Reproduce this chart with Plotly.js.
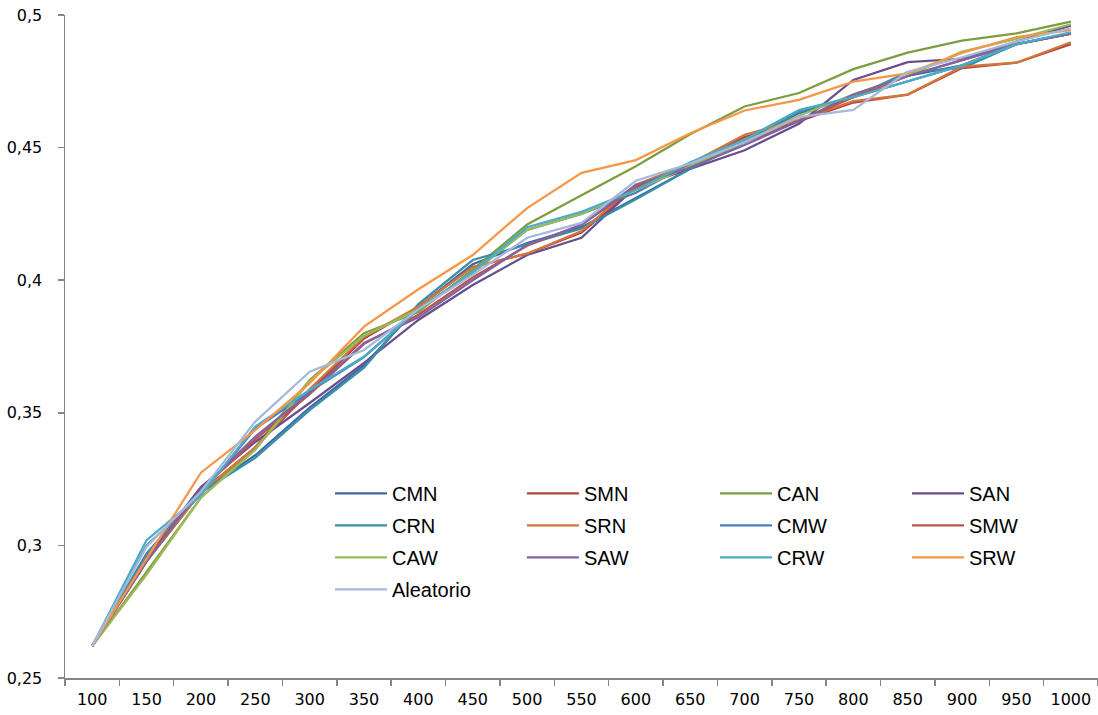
<!DOCTYPE html>
<html>
<head>
<meta charset="utf-8">
<script src="https://cdn.plot.ly/plotly-3.0.1.min.js"></script>
<style>html,body{margin:0;padding:0;background:#fff;}#chart{width:1098px;height:715px;}</style>
</head>
<body>
<div id="chart"></div>
<script>
const categories = ['100','150','200','250','300','350','400','450','500','550','600','650','700','750','800','850','900','950','1000'];

const CMN = [0.262,0.296,0.320,0.334,0.352,0.368,0.390,0.406,0.414,0.420,0.431,0.442,0.452,0.463,0.469,0.477,0.481,0.489,0.493];
const SMN = [0.262,0.294,0.320,0.337,0.358,0.378,0.390,0.405,0.410,0.418,0.435,0.444,0.454,0.460,0.467,0.470,0.480,0.482,0.489];
const CAN = [0.262,0.290,0.318,0.337,0.3624,0.380,0.388,0.404,0.421,0.432,0.443,0.455,0.4655,0.4706,0.4796,0.4858,0.4903,0.4931,0.4975];
const SAN = [0.262,0.2957,0.322,0.339,0.3537,0.3688,0.385,0.3982,0.4095,0.416,0.4353,0.442,0.449,0.459,0.4755,0.4822,0.4835,0.490,0.496];
const CRN = [0.262,0.297,0.320,0.333,0.351,0.367,0.391,0.4076,0.4135,0.4195,0.4305,0.442,0.452,0.4635,0.469,0.4785,0.480,0.489,0.493];
const SRN = [0.262,0.294,0.320,0.337,0.359,0.3787,0.390,0.405,0.410,0.4185,0.436,0.444,0.4548,0.4605,0.4675,0.470,0.4805,0.482,0.4897];
const CMW = [0.262,0.300,0.319,0.344,0.358,0.371,0.389,0.403,0.419,0.425,0.433,0.444,0.453,0.464,0.469,0.475,0.481,0.489,0.493];
const SMW = [0.262,0.295,0.321,0.340,0.357,0.376,0.387,0.401,0.413,0.421,0.435,0.443,0.452,0.460,0.469,0.477,0.483,0.489,0.493];
const CAW = [0.262,0.289,0.318,0.336,0.362,0.379,0.389,0.403,0.419,0.425,0.434,0.443,0.452,0.462,0.470,0.477,0.4862,0.491,0.4965];
const SAW = [0.262,0.294,0.321,0.341,0.3575,0.3763,0.386,0.400,0.4133,0.4208,0.436,0.4425,0.451,0.460,0.470,0.477,0.483,0.489,0.493];
const CRW = [0.262,0.302,0.319,0.3448,0.3586,0.3712,0.389,0.403,0.420,0.4258,0.434,0.4445,0.453,0.4642,0.469,0.475,0.481,0.489,0.4935];
const SRW = [0.262,0.295,0.3274,0.3435,0.3612,0.3825,0.3966,0.4095,0.4272,0.4405,0.4453,0.4554,0.464,0.468,0.4749,0.478,0.4857,0.4917,0.4943];
const Aleatorio = [0.262,0.2995,0.3203,0.3467,0.3655,0.3737,0.389,0.402,0.416,0.4216,0.4375,0.444,0.452,0.4615,0.4642,0.4786,0.484,0.490,0.495];

const seriesNames = ['CMN','SMN','CAN','SAN','CRN','SRN','CMW','SMW','CAW','SAW','CRW','SRW','Aleatorio'];
const seriesValues = [CMN,SMN,CAN,SAN,CRN,SRN,CMW,SMW,CAW,SAW,CRW,SRW,Aleatorio];
const seriesColors = ['#3c6aa6','#b3413e','#7e9d42','#684f8c','#3a8ea8','#d2773a','#4a7ebb','#c0504d','#9bbb59','#8064a2','#4bacc6','#f79646','#a5b9da'];

// legend laid out in 4 columns, filled row by row (as in the reference)
const legendIds = ['legend','legend2','legend3','legend4'];

const traces = seriesNames.map((n,i)=>({
  type:'scatter', mode:'lines', name:n, x:categories, y:seriesValues[i],
  line:{color:seriesColors[i], width:2.25},
  legend: legendIds[i % 4], legendgroup: 'g' + i
}));

const axisColor = '#868686';
const legFont = {family:'Liberation Sans, Arial, sans-serif', size:20, color:'#000'};
const colX = [0.2565, 0.4423, 0.6292, 0.8151];
function leg(x){
  return {orientation:'v', x:x, xanchor:'left', y:0.308, yanchor:'top',
    font:legFont, bgcolor:'rgba(0,0,0,0)', itemwidth:52, tracegroupgap:3, traceorder:'grouped'};
}
const tickFont = {family:'DejaVu Sans, Verdana, sans-serif', size:16, color:'#000'};
const layout = {
  width:1098, height:715,
  margin:{l:65, r:0, t:15, b:37, pad:0},
  paper_bgcolor:'#fff', plot_bgcolor:'#fff',
  separators:',.',
  showlegend:true,
  legend:leg(colX[0]), legend2:leg(colX[1]), legend3:leg(colX[2]), legend4:leg(colX[3]),
  xaxis:{
    type:'category', range:[-0.5,18.5], showgrid:false, zeroline:false,
    showline:true, linecolor:axisColor, linewidth:1.5,
    ticks:'outside', tickson:'boundaries', ticklen:6, tickcolor:axisColor, tickwidth:1.5,
    ticklabelstandoff:6,
    tickfont:tickFont
  },
  yaxis:{
    range:[0.25,0.5], tickvals:[0.25,0.3,0.35,0.4,0.45,0.5], showgrid:false, zeroline:false,
    showline:true, linecolor:axisColor, linewidth:1.5,
    ticks:'outside', ticklen:6, tickcolor:axisColor, tickwidth:1.5,
    ticklabelstandoff:12,
    tickfont:tickFont
  }
};

Plotly.newPlot('chart', traces, layout, {displayModeBar:false, staticPlot:true});
</script>
</body>
</html>
